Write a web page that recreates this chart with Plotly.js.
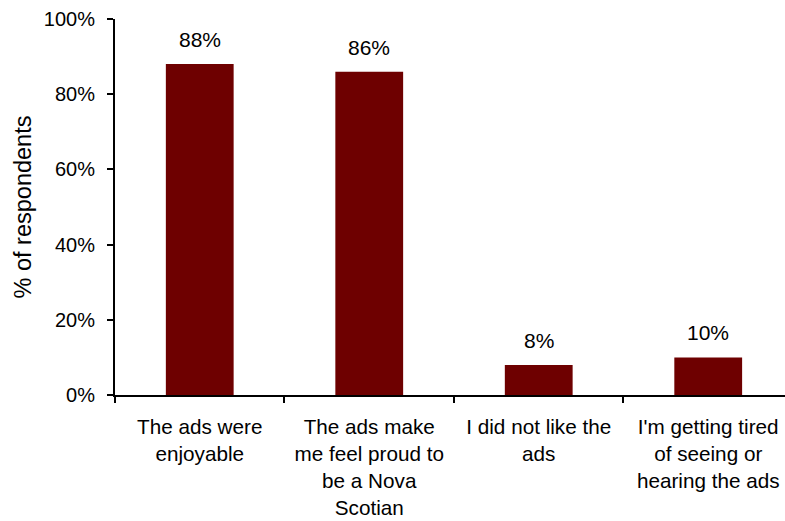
<!DOCTYPE html>
<html><head><meta charset="utf-8">
<script src="https://cdn.plot.ly/plotly-3.0.1.min.js"></script>
<style>body{margin:0;padding:0;background:#fff}#chart{width:785px;height:521px}</style>
</head><body><div id="chart"></div>
<script>
const categories = [
  "The ads were<br>enjoyable",
  "The ads make<br>me feel proud to<br>be a Nova<br>Scotian",
  "I did not like the<br>ads",
  "I'm getting tired<br>of seeing or<br>hearing the ads"
];
const values = [88, 86, 8, 10];
const valueLabels = ["88%", "86%", "8%", "10%"];
const yTicks = [0, 20, 40, 60, 80, 100];

const fam = "Liberation Sans, Arial, sans-serif";
const font = {family: fam, size: 20, color: "#000"};
const xFont = {family: fam, size: 20.7, color: "#000"};
const labelFont = {family: fam, size: 21, color: "#000"};
const titleFont = {family: fam, size: 23.5, color: "#000"};

const trace = {
  type: "bar",
  x: categories,
  y: values,
  marker: {color: "#6E0000", line: {width: 0}},
  width: 0.4,
  hoverinfo: "none"
};

const annotations = categories.map((c, i) => ({
  x: c, y: values[i], text: valueLabels[i], showarrow: false,
  xanchor: "center", yanchor: "bottom", yshift: 11, font: labelFont
}));

const layout = {
  width: 785, height: 521,
  margin: {l: 115, r: 0, t: 19, b: 126},
  paper_bgcolor: "#fff", plot_bgcolor: "#fff",
  font: font,
  showlegend: false,
  xaxis: {
    type: "category",
    range: [-0.5, 3.453],
    showline: true, linecolor: "#000", linewidth: 2,
    ticks: "outside", tickson: "boundaries", ticklen: 6, tickwidth: 2, tickcolor: "#000",
    showgrid: false, zeroline: false,
    tickfont: xFont,
    ticklabelstandoff: 12
  },
  yaxis: {
    range: [0, 100],
    tickvals: yTicks,
    ticktext: yTicks.map(v => v + "%"),
    showline: true, linecolor: "#000", linewidth: 2,
    ticks: "outside", ticklen: 6, tickwidth: 2, tickcolor: "#000",
    showgrid: false, zeroline: false,
    tickfont: font,
    ticklabelstandoff: 8,
    title: {text: "% of respondents", font: titleFont, standoff: 6}
  },
  annotations: annotations
};

Plotly.newPlot("chart", [trace], layout, {displayModeBar: false, staticPlot: true});
</script></body></html>
